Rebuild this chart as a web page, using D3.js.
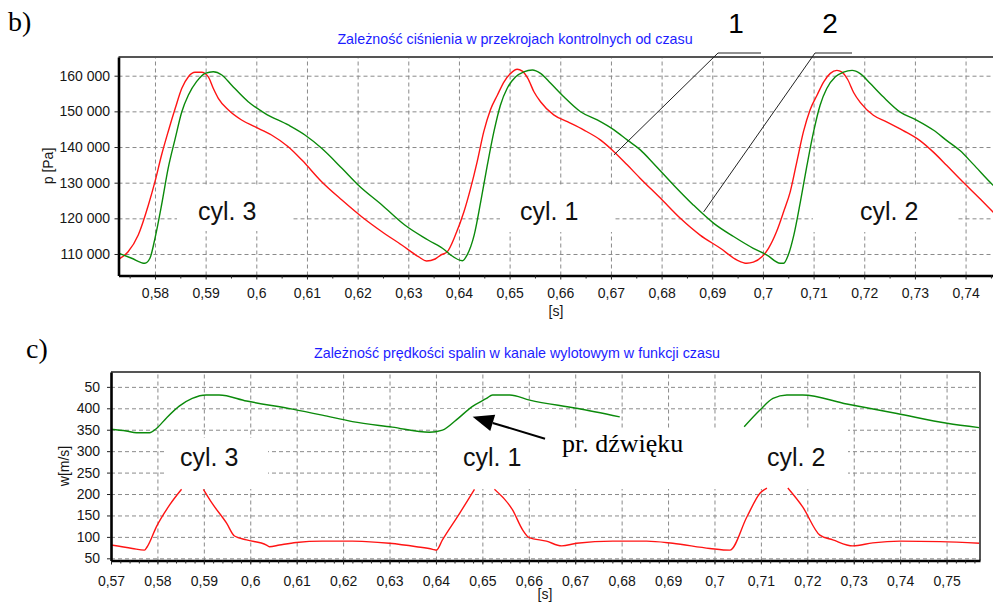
<!DOCTYPE html>
<html>
<head>
<meta charset="utf-8">
<script src="https://cdnjs.cloudflare.com/ajax/libs/d3/7.8.5/d3.min.js"></script>
<style>
body { margin: 0; background: #fff; }
svg { display: block; }
</style>
</head>
<body>
<div id="chart"></div>
<script>
// b) pressure in the control sections [Pa] - curve 1 (red), curve 2 (green)
var pTime1 = [0.5722,0.5731,0.5747,0.5767,0.5787,0.5800,0.5813,0.5826,0.5840,0.5853,0.5866,0.5879,0.5892,0.5905,0.5915,0.5925,0.5945,0.5971,0.5997,0.6030,0.6063,0.6090,0.6129,0.6169,0.6208,0.6248,0.6287,0.6320,0.6336,0.6353,
  0.6364,0.6377,0.6393,0.6410,0.6423,0.6436,0.6449,0.6462,0.6476,0.6489,0.6502,0.6515,0.6525,0.6536,0.6548,0.6561,0.6587,0.6614,0.6646,0.6679,0.6706,0.6732,0.6758,0.6798,0.6837,0.6876,0.6916,0.6949,0.6968,0.6981,0.6998,0.7011,0.7027,0.7041,0.7054,
  0.7067,0.7080,0.7093,0.7107,0.7120,0.7133,0.7146,0.7156,0.7167,0.7179,0.7192,0.7218,0.7245,0.7277,0.7310,0.7337,0.7363,0.7389,0.7429,0.7468];
var pVal1 = [108200,108800,110650,115330,123740,130280,137760,144300,150860,156470,159720,160950,160950,159720,156470,153660,150380,147580,145700,143370,140090,136360,130280,125140,120460,116250,112520,109240,108040,108600,
  109700,110650,115300,121900,128400,135900,144300,150400,154600,158300,160650,161800,161300,159250,155500,152700,149000,147100,144800,142000,138700,135000,131200,125600,120000,115300,111600,108300,107400,107700,109200,111600,116300,121900,127500,
  135900,144300,150400,154600,158300,160650,161500,161000,159000,155300,152500,148900,147000,144600,141800,138500,134800,131000,125400,119800];

var pTime2 = [0.5721,0.5754,0.5780,0.5790,0.5800,0.5813,0.5826,0.5840,0.5853,0.5866,0.5882,0.5899,0.5915,0.5932,0.5951,0.5984,0.6017,0.6063,0.6096,0.6129,0.6169,0.6201,0.6248,0.6293,0.6339,0.6372,0.6384,0.6407,
  0.6416,0.6430,0.6443,0.6456,0.6469,0.6482,0.6495,0.6512,0.6528,0.6545,0.6561,0.6581,0.6607,0.6640,0.6673,0.6706,0.6732,0.6758,0.6784,0.6824,0.6863,0.6903,0.6942,0.6981,0.7008,0.7034,0.7041,0.7050,
  0.7061,0.7074,0.7087,0.7100,0.7113,0.7126,0.7143,0.7159,0.7176,0.7192,0.7212,0.7238,0.7271,0.7304,0.7337,0.7363,0.7389,0.7415,0.7455,0.7480];
var pVal2 = [110650,108800,107390,108800,114400,123740,134030,142440,149900,154590,158320,160670,161120,160200,157390,152710,149460,146180,143370,139640,134030,129350,123740,118130,113930,111120,109700,108100,
  109700,115300,124700,134900,144300,151800,156400,159700,161100,161600,160650,157900,154100,149900,147600,144800,142000,139200,135400,129300,123700,118600,114900,111600,109700,107400,107400,109700,
  115300,124700,134900,144300,151800,156400,159700,161000,161500,160600,157800,154000,149800,147500,144700,141800,139000,135200,129200,126000];

var pTicks = [110000,120000,130000,140000,150000,160000];
var pTickLabels = ["110 000","120 000","130 000","140 000","150 000","160 000"];
var tTicksB = [0.58,0.59,0.60,0.61,0.62,0.63,0.64,0.65,0.66,0.67,0.68,0.69,0.70,0.71,0.72,0.73,0.74];
var tTickLabelsB = ["0,58","0,59","0,6","0,61","0,62","0,63","0,64","0,65","0,66","0,67","0,68","0,69","0,7","0,71","0,72","0,73","0,74"];

// c) gas velocity in the exhaust duct [m/s] - null = hidden by a label box
var wTimeGreen = [0.5700,0.5733,0.5755,0.5783,0.5798,0.5819,0.5847,0.5875,0.5905,0.5933,0.5992,0.6091,0.6155,0.6220,0.6306,0.6386,0.6414,0.6444,0.6478,0.6509,0.6522,0.6559,0.6602,0.6703,0.6796,0.6930,0.7064,0.7098,0.7126,0.7156,0.7190,0.7285,0.7393,0.7501,0.7570];
var wValGreen = [351,347,343,343,353,377,405,423,431,431,417,398,384,369,356,344,349,373,404,423,431,431,419,400,380,null,357,396,423,431,431,410,388,365,355];

var wTimeRed = [0.5700,0.5746,0.5772,0.5778,0.5798,0.5826,0.5852,0.5875,0.5899,0.5918,0.5949,0.5966,0.5992,0.6035,0.6041,0.6063,0.6099,0.6155,0.6220,0.6250,0.6300,0.6358,0.6393,0.6401,0.6414,0.6451,0.6478,0.6483,0.6505,0.6526,0.6565,0.6587,0.6600,0.6638,0.6671,0.6703,0.6781,0.6854,0.6910,0.6990,0.7033,0.7070,0.7098,0.7113,0.7135,0.7158,0.7190,0.7227,0.7255,0.7298,0.7341,0.7400,0.7486,0.7572];
var wValRed = [81,73,69,77,124,174,211,null,211,178,132,102,93,81,77,81,87,90,90,89,85,77,71,69,93,155,202,211,null,211,163,116,99,90,79,85,90,90,85,73,69,147,202,214,null,214,170,104,93,79,86,90,89,85];

var wTicks = [50,100,150,200,250,300,350,400,450];
var wTickLabels = ["50","100","150","200","250","300","350","400","50"];
var tTicksC = [0.57,0.58,0.59,0.60,0.61,0.62,0.63,0.64,0.65,0.66,0.67,0.68,0.69,0.70,0.71,0.72,0.73,0.74,0.75];
var tTickLabelsC = ["0,57","0,58","0,59","0,6","0,61","0,62","0,63","0,64","0,65","0,66","0,67","0,68","0,69","0,7","0,71","0,72","0,73","0,74","0,75"];

var RED = "#ff1414", GREEN = "#0b8a0b", GRID = "#8a8a8a";
var SANS = "'Liberation Sans', Arial, sans-serif", SERIF = "'Liberation Serif', 'Times New Roman', serif";

var svg = d3.select("#chart").append("svg")
            .attr("width", 993)
            .attr("height", 603);

function toPoints(ts, vs) {
  return ts.map(function(t, i) { return {t: t, v: vs[i]}; });
}

function drawPanel(o) {
  var x = d3.scaleLinear().domain(o.tDomain).range([o.left, o.right]);
  var y = d3.scaleLinear().domain(o.vDomain).range([o.bottom, o.top]);
  var g = svg.append("g");

  g.append("clipPath").attr("id", o.id + "clip")
    .append("rect")
    .attr("x", o.left).attr("y", o.top)
    .attr("width", o.right - o.left).attr("height", o.bottom - o.top);

  // dashed grid
  g.append("g")
    .attr("transform", "translate(0," + o.bottom + ")")
    .call(d3.axisBottom(x).tickValues(o.tTicks.filter(function(t){ return x(t) > o.left + 2; }))
            .tickSize(-(o.bottom - o.top)).tickFormat(""))
    .call(function(s){ s.select(".domain").remove(); })
    .selectAll("line").attr("stroke", GRID).attr("stroke-dasharray", "4,3");
  g.append("g")
    .attr("transform", "translate(" + o.left + ",0)")
    .call(d3.axisLeft(y).tickValues(o.vTicks).tickSize(-(o.right - o.left)).tickFormat(""))
    .call(function(s){ s.select(".domain").remove(); })
    .selectAll("line").attr("stroke", GRID).attr("stroke-dasharray", "4,3");

  // white label boxes covering the grid
  g.selectAll("rect.box").data(o.boxes).enter().append("rect")
    .attr("class", "box")
    .attr("x", function(d){ return d[0]; }).attr("y", function(d){ return d[1]; })
    .attr("width", function(d){ return d[2] - d[0]; }).attr("height", function(d){ return d[3] - d[1]; })
    .attr("fill", "#fff");

  // curves
  var line = d3.line()
    .defined(function(d){ return d.v !== null; })
    .curve(d3.curveMonotoneX)
    .x(function(d){ return x(d.t); })
    .y(function(d){ return y(d.v); });
  g.append("g").attr("clip-path", "url(#" + o.id + "clip)")
    .selectAll("path").data(o.series).enter().append("path")
    .attr("d", function(d){ return line(d.points); })
    .attr("fill", "none")
    .attr("stroke", function(d){ return d.color; })
    .attr("stroke-width", 1.4);

  // frame
  g.append("line").attr("x1", o.left).attr("x2", o.right).attr("y1", o.top).attr("y2", o.top)
    .attr("stroke", "#555").attr("stroke-width", 2);
  if (o.rightBorder) {
    g.append("line").attr("x1", o.right).attr("x2", o.right).attr("y1", o.top).attr("y2", o.bottom)
      .attr("stroke", "#555").attr("stroke-width", 2);
  }

  // axes
  var xAxis = g.append("g")
    .attr("transform", "translate(0," + o.bottom + ")")
    .call(d3.axisBottom(x).tickValues(o.tTicks).tickFormat(function(d, i){ return o.tLabels[i]; })
            .tickSize(4).tickPadding(o.xPad).tickSizeOuter(0));
  g.append("g")
    .attr("transform", "translate(0," + o.bottom + ")")
    .call(d3.axisBottom(x).tickValues(o.tMinor).tickFormat("").tickSize(3).tickSizeOuter(0))
    .call(function(s){ s.select(".domain").remove(); });
  var yAxis = g.append("g")
    .attr("transform", "translate(" + o.left + ",0)")
    .call(d3.axisLeft(y).tickValues(o.vTicks).tickFormat(function(d, i){ return o.vLabels[i]; })
            .tickSize(4).tickPadding(o.yPad).tickSizeOuter(0));

  [xAxis, yAxis].forEach(function(a) {
    a.select(".domain").attr("stroke", "#000").attr("stroke-width", 2.6);
    a.selectAll("text").attr("font-family", SANS).attr("font-size", "14px").attr("fill", "#161616");
  });
  g.selectAll(".tick line").filter(function(){ return !this.getAttribute("stroke-dasharray"); })
    .attr("stroke", "#222");

  // titles
  g.append("text").attr("x", o.titleX).attr("y", o.titleY)
    .attr("text-anchor", "middle").attr("font-family", SANS).attr("font-size", "14.3px")
    .attr("fill", "#1c1cff").text(o.title);
  g.append("text")
    .attr("transform", "translate(" + o.yTitleX + "," + o.yTitleY + ") rotate(-90)")
    .attr("text-anchor", "middle").attr("font-family", SANS).attr("font-size", "14px")
    .attr("fill", "#161616").text(o.yTitle);
  g.append("text").attr("x", o.xTitleX).attr("y", o.xTitleY)
    .attr("text-anchor", "middle").attr("font-family", SANS).attr("font-size", "14px")
    .attr("fill", "#161616").text("[s]");

  // cylinder labels
  g.selectAll("text.cyl").data(o.cyl).enter().append("text")
    .attr("class", "cyl")
    .attr("x", function(d){ return d[1]; }).attr("y", o.cylY)
    .attr("font-family", SANS).attr("font-size", "25px").attr("fill", "#111")
    .text(function(d){ return d[0]; });

  return {x: x, y: y, g: g};
}

var pb = drawPanel({
  id: "b", left: 118.5, right: 998, top: 57, bottom: 275.5,
  tDomain: [0.5728, 0.7464], vDomain: [103970, 165244],
  tTicks: tTicksB, tLabels: tTickLabelsB, tMinor: d3.range(0.575, 0.75, 0.01),
  vTicks: pTicks, vLabels: pTickLabels, xPad: 8.5, yPad: 4.5,
  series: [
    {color: RED, points: toPoints(pTime1, pVal1)},
    {color: GREEN, points: toPoints(pTime2, pVal2)}
  ],
  boxes: [[177, 187, 293, 231], [500, 187, 613, 232], [813, 187, 958, 232]],
  title: "Zależność ciśnienia w przekrojach kontrolnych od czasu", titleX: 515, titleY: 44,
  yTitle: "p [Pa]", yTitleX: 53, yTitleY: 166,
  xTitleX: 556, xTitleY: 316,
  cyl: [["cyl. 3", 198], ["cyl. 1", 520], ["cyl. 2", 860]], cylY: 220,
  rightBorder: false
});

var pc = drawPanel({
  id: "c", left: 111, right: 980, top: 372, bottom: 560.5,
  tDomain: [0.57, 0.7572], vDomain: [44.9, 484.7],
  tTicks: tTicksC, tLabels: tTickLabelsC, tMinor: d3.range(0.572, 0.757, 0.002),
  vTicks: wTicks, vLabels: wTickLabels, xPad: 11.5, yPad: 7,
  series: [
    {color: GREEN, points: toPoints(wTimeGreen, wValGreen)},
    {color: RED, points: toPoints(wTimeRed, wValRed)}
  ],
  boxes: [[165, 438, 268, 489], [440, 409, 556, 489], [556, 428, 745, 489], [745, 428, 848, 489]],
  title: "Zależność prędkości spalin w kanale wylotowym w funkcji czasu", titleX: 517, titleY: 358,
  yTitle: "w[m/s]", yTitleX: 69, yTitleY: 466,
  xTitleX: 545, xTitleY: 599,
  cyl: [["cyl. 3", 180], ["cyl. 1", 463], ["cyl. 2", 767]], cylY: 466,
  rightBorder: true
});

// panel letters
svg.append("text").attr("x", 8).attr("y", 31).attr("font-family", SERIF).attr("font-size", "28px").text("b)");
svg.append("text").attr("x", 26).attr("y", 358).attr("font-family", SERIF).attr("font-size", "28px").text("c)");

// leader lines for curves 1 and 2
var leaders = [
  {label: "1", lx: 736, hx: [718, 761], end: [0.6706, 137800]},
  {label: "2", lx: 830, hx: [815, 852], end: [0.6883, 121800]}
];
leaders.forEach(function(d) {
  svg.append("polyline")
    .attr("points", [[d.hx[1], 53], [d.hx[0], 53], [pb.x(d.end[0]), pb.y(d.end[1])]].join(" "))
    .attr("fill", "none").attr("stroke", "#222").attr("stroke-width", 1);
  svg.append("text").attr("x", d.lx).attr("y", 33).attr("text-anchor", "middle")
    .attr("font-family", SANS).attr("font-size", "28px").attr("fill", "#000").text(d.label);
});

// speed of sound arrow
var tail = [pc.x(0.6635), pc.y(329)], tip = [pc.x(0.6479), pc.y(380)];
var dx = tip[0] - tail[0], dy = tip[1] - tail[1], len = Math.sqrt(dx * dx + dy * dy);
var ux = dx / len, uy = dy / len, hl = 21, hw = 8.5;
var base = [tip[0] - ux * hl, tip[1] - uy * hl];
svg.append("line").attr("x1", tail[0]).attr("y1", tail[1]).attr("x2", base[0]).attr("y2", base[1])
  .attr("stroke", "#000").attr("stroke-width", 2);
svg.append("polygon")
  .attr("points", [tip, [base[0] - uy * hw, base[1] + ux * hw], [base[0] + uy * hw, base[1] - ux * hw]].join(" "))
  .attr("fill", "#000");
svg.append("text").attr("x", 562).attr("y", 452).attr("font-family", SERIF).attr("font-size", "26px")
  .attr("fill", "#000").text("pr. dźwięku");
</script>
</body>
</html>
